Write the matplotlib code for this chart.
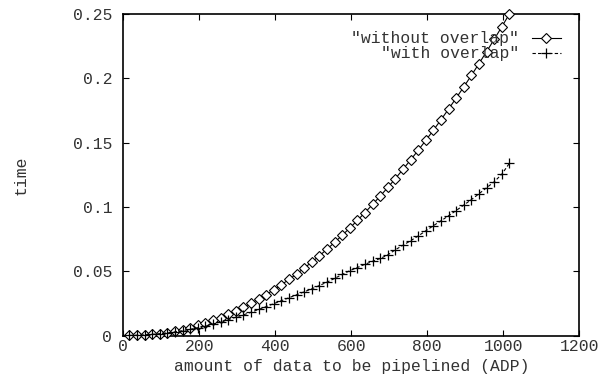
import matplotlib
matplotlib.use("Agg")
import matplotlib.pyplot as plt
from matplotlib.lines import Line2D

# amount of data (ADP) sampled every 20 units
adp = [16, 36, 56, 76, 96, 116, 136, 156, 176, 196,
       216, 236, 256, 276, 296, 316, 336, 356, 376, 396,
       416, 436, 456, 476, 496, 516, 536, 556, 576, 596,
       616, 636, 656, 676, 696, 716, 736, 756, 776, 796,
       816, 836, 856, 876, 896, 916, 936, 956, 976, 996, 1016]

without_overlap = [0.0002, 0.0004, 0.0007, 0.0011, 0.0016, 0.0024, 0.0035, 0.0048, 0.0063, 0.0081,
                   0.0100, 0.0119, 0.0141, 0.0166, 0.0192, 0.0221, 0.0252, 0.0285, 0.0320, 0.0357,
                   0.0396, 0.0437, 0.0480, 0.0525, 0.0572, 0.0621, 0.0672, 0.0725, 0.0780, 0.0837,
                   0.0896, 0.0957, 0.1020, 0.1085, 0.1152, 0.1221, 0.1293, 0.1366, 0.1441, 0.1518,
                   0.1597, 0.1678, 0.1762, 0.1847, 0.1934, 0.2023, 0.2115, 0.2208, 0.2303, 0.2401, 0.2500]

with_overlap = [0.0002, 0.0004, 0.0007, 0.0011, 0.0016, 0.0022, 0.0030, 0.0039, 0.0050, 0.0062,
                0.0076, 0.0091, 0.0108, 0.0125, 0.0143, 0.0162, 0.0182, 0.0204, 0.0226, 0.0249,
                0.0272, 0.0295, 0.0318, 0.0341, 0.0364, 0.0390, 0.0416, 0.0445, 0.0476, 0.0505,
                0.0530, 0.0555, 0.0578, 0.0600, 0.0628, 0.0668, 0.0703, 0.0738, 0.0775, 0.0815,
                0.0855, 0.0893, 0.0932, 0.0973, 0.1015, 0.1058, 0.1103, 0.1150, 0.1196, 0.1255, 0.1340]

x_ticks = [0, 200, 400, 600, 800, 1000, 1200]
x_tick_labels = ["0", "200", "400", "600", "800", "1000", "1200"]
y_ticks = [0, 0.05, 0.1, 0.15, 0.2, 0.25]
y_tick_labels = ["0", "0.05", "0.1", "0.15", "0.2", "0.25"]

series_names = ['"without overlap"', '"with overlap"']

plt.rcParams['font.family'] = ['Liberation Mono', 'DejaVu Sans Mono']
FS = 11.8
TXT = '#333333'

fig = plt.figure(figsize=(6.10, 3.83), dpi=100)
ax = fig.add_axes([0.2021, 0.1235, 0.7476, 0.8399])

ax.plot(adp, without_overlap, color='black', lw=0.8, marker='D', ms=4.8,
        mfc='white', mec='black', mew=0.8, clip_on=False, zorder=3)
ax.plot(adp, with_overlap, color='black', lw=0.8, ls=(0, (3, 2)), marker='+',
        ms=7, mew=0.9, clip_on=False, zorder=3)

ax.set_xlim(0, 1200)
ax.set_ylim(0, 0.25)
ax.set_xticks(x_ticks)
ax.set_xticklabels(x_tick_labels)
ax.set_yticks(y_ticks)
ax.set_yticklabels(y_tick_labels)
ax.tick_params(direction='in', length=4.5, width=0.8, top=True, right=True,
               labelsize=FS, colors='black', labelcolor=TXT)
ax.tick_params(axis='y', pad=8)
ax.tick_params(axis='x', pad=2.5)
for s in ax.spines.values():
    s.set_linewidth(1.2)

fig.text(351.3 / 610, 1 - 366 / 383, 'amount of data to be pipelined (ADP)',
         ha='center', va='center', fontsize=FS, color=TXT)
fig.text(21 / 610, 1 - 175 / 383, 'time', rotation=90,
         ha='center', va='center', fontsize=FS, color=TXT)

# gnuplot style key, right aligned labels with sample lines
key_rows = [38.3, 53.3]
for name, yy, kind in zip(series_names, key_rows, ['D', '+']):
    fy = 1 - yy / 383
    fig.text(519 / 610, fy, name, ha='right', va='center', fontsize=FS, color=TXT)
    if kind == 'D':
        fig.add_artist(Line2D([532 / 610, 561 / 610], [fy, fy], color='black', lw=0.8))
        fig.add_artist(Line2D([546 / 610], [fy], marker='D', ms=4.8, mfc='white',
                              mec='black', mew=0.8))
    else:
        fig.add_artist(Line2D([532 / 610, 561 / 610], [fy, fy], color='black', lw=0.8,
                              ls=(0, (3, 2))))
        fig.add_artist(Line2D([546 / 610], [fy], marker='+', ms=7, mew=0.9, color='black'))

fig.savefig('out.png', dpi=100)
